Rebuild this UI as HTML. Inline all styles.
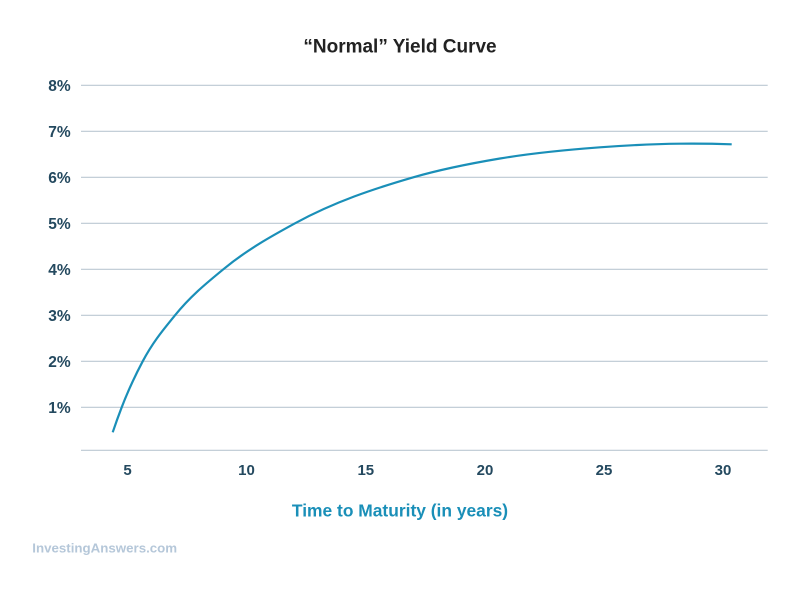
<!DOCTYPE html>
<html>
<head>
<meta charset="utf-8">
<style>
  html, body { margin: 0; padding: 0; background: #ffffff; }
  body { width: 800px; height: 589px; overflow: hidden; }
  svg { display: block; }
  text { font-family: "Liberation Sans", "DejaVu Sans", sans-serif; font-weight: bold; }
</style>
</head>
<body>
<svg width="800" height="589" viewBox="0 0 800 589" xmlns="http://www.w3.org/2000/svg">
  <rect width="800" height="589" fill="#ffffff"/>

  <!-- Title -->
  <text x="400" y="52.7" font-size="19" fill="#222222" text-anchor="middle">“Normal” Yield Curve</text>

  <!-- Gridlines -->
  <g stroke="#bcc8d3" stroke-width="1.2">
    <line x1="81" y1="85.3" x2="767.7" y2="85.3"/>
    <line x1="81" y1="131.3" x2="767.7" y2="131.3"/>
    <line x1="81" y1="177.3" x2="767.7" y2="177.3"/>
    <line x1="81" y1="223.3" x2="767.7" y2="223.3"/>
    <line x1="81" y1="269.3" x2="767.7" y2="269.3"/>
    <line x1="81" y1="315.3" x2="767.7" y2="315.3"/>
    <line x1="81" y1="361.3" x2="767.7" y2="361.3"/>
    <line x1="81" y1="407.3" x2="767.7" y2="407.3"/>
    <line x1="81" y1="450.3" x2="767.7" y2="450.3"/>
  </g>

  <!-- Y labels -->
  <g font-size="15.5" fill="#24495f" text-anchor="end">
    <text x="70.7" y="91">8%</text>
    <text x="70.7" y="137">7%</text>
    <text x="70.7" y="183">6%</text>
    <text x="70.7" y="229">5%</text>
    <text x="70.7" y="275">4%</text>
    <text x="70.7" y="321">3%</text>
    <text x="70.7" y="367">2%</text>
    <text x="70.7" y="413">1%</text>
  </g>

  <!-- X labels -->
  <g font-size="15" fill="#24495f" text-anchor="middle">
    <text x="127.5" y="475">5</text>
    <text x="246.5" y="475">10</text>
    <text x="365.8" y="475">15</text>
    <text x="485" y="475">20</text>
    <text x="604" y="475">25</text>
    <text x="723" y="475">30</text>
  </g>

  <!-- X axis title -->
  <text x="400" y="516.7" font-size="17.4" fill="#1a8fb8" text-anchor="middle">Time to Maturity (in years)</text>

  <!-- Curve -->
  <path fill="none" stroke="#1a8fb8" stroke-width="2.2" stroke-linecap="butt"
    d="M112.7,432.3
       C115.7,423.44 118.7,415.10 121.7,407.3
       C128.7,389.09 135.7,374.52 142.7,361.3
       C153.47,340.97 164.23,328.60 175,315.3
       C191.1,295.42 207.2,282.61 223.3,269.3
       C247.2,249.53 271.1,236.36 295,223.3
       C334.43,201.75 373.87,188.73 413.3,177.3
       C442.2,168.93 471.1,163.36 500,158.5
       C533.33,152.89 566.67,149.79 600,147.3
       C626.67,145.31 653.33,143.98 680,143.7
       C697.23,143.52 714.47,143.72 731.7,144.3"/>

  <!-- Watermark -->
  <text x="32.3" y="552.7" font-size="13.3" fill="#b5c7d9">InvestingAnswers.com</text>
</svg>
</body>
</html>
